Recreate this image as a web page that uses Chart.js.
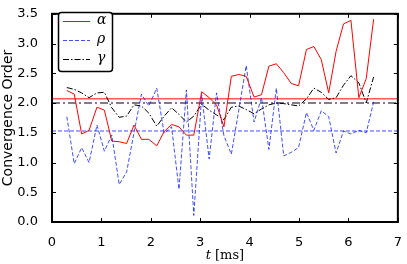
<!DOCTYPE html>
<html>
<head>
<meta charset="utf-8">
<script src="https://cdn.jsdelivr.net/npm/chart.js@4.4.1/dist/chart.umd.min.js"></script>
<style>
  html, body { margin: 0; padding: 0; background: #fff; }
  #wrap { width: 407px; height: 264px; }
</style>
</head>
<body>
<div id="wrap"><canvas id="chart" width="407" height="264"></canvas></div>
<script>
// time samples [ms]
const times = [0.30, 0.45, 0.60, 0.75, 0.91, 1.06, 1.21, 1.36, 1.51, 1.66,
  1.81, 1.96, 2.12, 2.27, 2.42, 2.57, 2.72, 2.87, 3.03, 3.18,
  3.33, 3.48, 3.63, 3.78, 3.93, 4.09, 4.24, 4.39, 4.54, 4.69,
  4.84, 4.99, 5.15, 5.30, 5.45, 5.60, 5.75, 5.90, 6.05, 6.21,
  6.36, 6.51];

const alphaOrder = [2.21, 2.15, 1.48, 1.54, 1.93, 1.88, 1.36, 1.35, 1.32, 1.63,
  1.39, 1.39, 1.28, 1.52, 1.64, 1.60, 1.46, 1.46, 2.19, 2.09,
  1.97, 1.60, 2.45, 2.48, 2.45, 2.10, 2.14, 2.62, 2.66, 2.51,
  2.33, 2.29, 2.90, 2.95, 2.73, 2.17, 2.87, 3.33, 3.39, 2.09,
  2.41, 3.41];

const rhoOrder = [1.77, 0.98, 1.25, 1.00, 1.63, 1.19, 1.46, 0.63, 0.84, 1.50,
  2.15, 1.95, 2.25, 1.49, 1.60, 0.55, 2.22, 0.11, 2.14, 1.06,
  2.17, 1.45, 1.14, 1.88, 2.63, 1.68, 2.09, 1.22, 2.25, 1.11,
  1.17, 1.25, 1.84, 1.54, 1.87, 1.77, 1.16, 1.53, 1.48, 1.54,
  1.50, 2.02];

const gammaOrder = [2.26, 2.23, 2.17, 2.09, 2.17, 2.18, 1.92, 1.76, 1.78, 1.97,
  1.95, 1.83, 1.61, 1.78, 1.92, 1.81, 1.68, 1.78, 1.98, 1.88,
  1.80, 1.72, 1.93, 1.95, 1.89, 1.82, 1.90, 1.97, 2.00, 1.99,
  1.97, 1.95, 2.07, 2.25, 2.18, 2.06, 2.09, 2.30, 2.46, 2.34,
  2.00, 2.44];

// horizontal reference levels
const alphaMean = 2.07;
const rhoMean = 1.53;
const gammaRef = 2.0;

const legendLabels = ["α", "ρ", "γ"];
const xRange = [0, 7];
const yRange = [0, 3.5];

const toPoints = (ys) => ys.map((y, i) => ({ x: times[i], y: y }));
const flat = (v) => [{ x: xRange[0], y: v }, { x: xRange[1], y: v }];

const RED = "#ff0000";
const BLUE = "rgba(0, 20, 255, 0.75)";
const BLACK = "#000000";

const lineStyle = {
  pointRadius: 0,
  tension: 0,
  fill: false,
  borderWidth: 1,
};

// frame, inward ticks, legend and x title
const decorations = {
  id: "decorations",
  afterDraw(chart) {
    const ctx = chart.ctx;
    const { left, right, top, bottom } = chart.chartArea;
    const xs = chart.scales.x;
    const ys = chart.scales.y;
    ctx.save();

    // ticks on all four sides, pointing in
    ctx.strokeStyle = "#000";
    ctx.lineWidth = 1;
    ctx.beginPath();
    xs.ticks.forEach((t) => {
      const px = Math.round(xs.getPixelForValue(t.value)) + 0.5;
      ctx.moveTo(px, bottom); ctx.lineTo(px, bottom - 4);
      ctx.moveTo(px, top); ctx.lineTo(px, top + 4);
    });
    ys.ticks.forEach((t) => {
      const py = Math.round(ys.getPixelForValue(t.value)) + 0.5;
      ctx.moveTo(left, py); ctx.lineTo(left + 4, py);
      ctx.moveTo(right, py); ctx.lineTo(right - 4, py);
    });
    ctx.stroke();

    // frame
    ctx.lineWidth = 2;
    ctx.strokeRect(left, top, right - left, bottom - top);

    // legend box
    const bx = 58.5, by = 12.5, bw = 54, bh = 59, r = 3;
    ctx.beginPath();
    ctx.moveTo(bx + r, by);
    ctx.arcTo(bx + bw, by, bx + bw, by + bh, r);
    ctx.arcTo(bx + bw, by + bh, bx, by + bh, r);
    ctx.arcTo(bx, by + bh, bx, by, r);
    ctx.arcTo(bx, by, bx + bw, by, r);
    ctx.closePath();
    ctx.fillStyle = "#fff";
    ctx.fill();
    ctx.lineWidth = 1.5;
    ctx.strokeStyle = "#000";
    ctx.stroke();

    const entries = [
      { color: RED, dash: [] },
      { color: BLUE, dash: [4, 2] },
      { color: BLACK, dash: [6, 2, 1.5, 2] },
    ];
    entries.forEach((e, i) => {
      const y = 21.5 + i * 19;
      ctx.beginPath();
      ctx.setLineDash(e.dash);
      ctx.strokeStyle = e.color;
      ctx.lineWidth = 1;
      ctx.moveTo(63, y);
      ctx.lineTo(90, y);
      ctx.stroke();
      ctx.setLineDash([]);
      ctx.fillStyle = "#000";
      ctx.font = "italic 14px 'DejaVu Serif'";
      ctx.textBaseline = "middle";
      ctx.textAlign = "left";
      ctx.fillText(legendLabels[i], 97, y - 1);
    });

    // x axis title: t [ms]
    const cx = (left + right) / 2;
    ctx.fillStyle = "#000";
    ctx.textBaseline = "alphabetic";
    ctx.font = "italic 13px 'DejaVu Serif'";
    const tW = ctx.measureText("t").width;
    ctx.font = "13px 'DejaVu Serif'";
    const uW = ctx.measureText(" [ms]").width;
    const x0 = cx - (tW + uW) / 2;
    ctx.font = "italic 13px 'DejaVu Serif'";
    ctx.fillText("t", x0, 259);
    ctx.font = "13px 'DejaVu Serif'";
    ctx.fillText(" [ms]", x0 + tW, 259);

    ctx.restore();
  },
};

const ctx = document.getElementById("chart").getContext("2d");
new Chart(ctx, {
  type: "line",
  data: {
    datasets: [
      { ...lineStyle, label: "alpha", data: toPoints(alphaOrder), borderColor: RED },
      { ...lineStyle, label: "rho", data: toPoints(rhoOrder), borderColor: BLUE, borderDash: [4, 2] },
      { ...lineStyle, label: "gamma", data: toPoints(gammaOrder), borderColor: BLACK, borderDash: [6, 2, 1.5, 2] },
      { ...lineStyle, label: "alpha mean", data: flat(alphaMean), borderColor: RED },
      { ...lineStyle, label: "rho mean", data: flat(rhoMean), borderColor: BLUE, borderDash: [4, 2] },
      { ...lineStyle, label: "gamma ref", data: flat(gammaRef), borderColor: "rgba(0,0,0,0.5)", borderWidth: 2, borderDash: [8, 3, 2, 3] },
    ],
  },
  options: {
    responsive: false,
    animation: false,
    events: [],
    layout: { padding: { top: 5, right: 5, left: 0, bottom: 0 } },
    plugins: { legend: { display: false }, tooltip: { enabled: false } },
    scales: {
      x: {
        type: "linear",
        min: xRange[0],
        max: xRange[1],
        grid: { display: false },
        border: { display: false },
        ticks: { stepSize: 1, color: "#000", padding: 5, font: { family: "DejaVu Sans", size: 13 } },
        afterFit: (s) => { s.height = 42; },
      },
      y: {
        min: yRange[0],
        max: yRange[1],
        grid: { display: false },
        border: { display: false },
        ticks: {
          stepSize: 0.5,
          color: "#000",
          padding: 6,
          font: { family: "DejaVu Sans", size: 13 },
          callback: (v) => v.toFixed(1),
        },
        title: {
          display: true,
          text: "Convergence Order",
          color: "#000",
          padding: 0,
          font: { family: "DejaVu Sans", size: 14 },
        },
        afterFit: (s) => { s.width = 52; },
      },
    },
  },
  plugins: [decorations],
});
</script>
</body>
</html>
